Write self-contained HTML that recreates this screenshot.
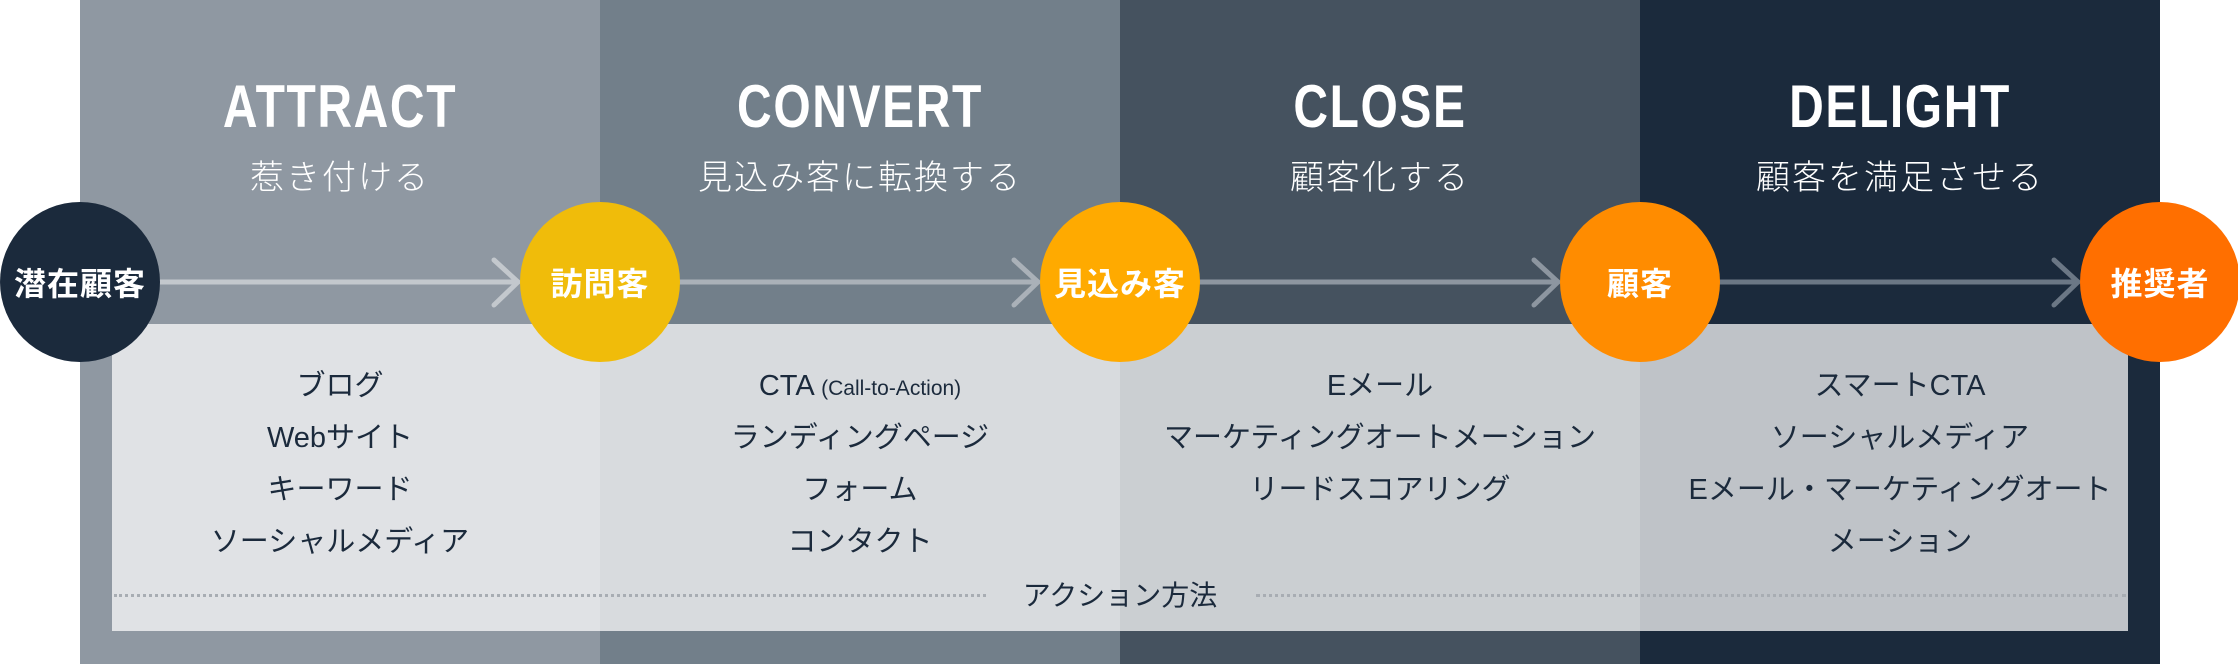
<!DOCTYPE html>
<html><head><meta charset="utf-8"><style>
*{margin:0;padding:0;box-sizing:border-box}
body{width:2238px;height:664px;position:relative;background:#fff;overflow:hidden;font-family:"Liberation Sans","Noto Sans CJK JP",sans-serif}
.col{position:absolute;top:0;height:664px;width:520px}
.light{position:absolute;left:112px;top:324px;width:2016px;height:307px;background:rgba(255,255,255,0.72)}
.t{position:absolute;width:520px;text-align:center;color:#fff}
.h{top:72px;font-size:60px;font-weight:bold;letter-spacing:2px;font-family:"Liberation Sans Narrow","Liberation Sans",sans-serif;transform:scaleX(0.8)}
.s{top:150px;font-size:34px;font-weight:300;letter-spacing:2px}
.items{position:absolute;top:360px;width:520px;text-align:center;color:#1b2a3c;font-size:29px;line-height:52px}
.items span{line-height:20px}
.c{position:absolute;top:202px;width:160px;height:160px;border-radius:50%;color:#fff;font-weight:bold;font-size:32px;display:flex;align-items:center;justify-content:center;letter-spacing:1px}
.dot{position:absolute;top:594px;height:0;border-top:3px dotted #a8adb3}
</style></head><body>
<div class="col" style="left:80px;background:#8f98a2"></div>
<div class="col" style="left:600px;background:#727f8a"></div>
<div class="col" style="left:1120px;background:#45525f"></div>
<div class="col" style="left:1640px;background:#1b2a3c"></div>
<div class="light"></div>

<div class="t h" style="left:80px">ATTRACT</div>
<div class="t s" style="left:80px">惹き付ける</div>
<div class="t h" style="left:600px">CONVERT</div>
<div class="t s" style="left:600px">見込み客に転換する</div>
<div class="t h" style="left:1120px">CLOSE</div>
<div class="t s" style="left:1120px">顧客化する</div>
<div class="t h" style="left:1640px">DELIGHT</div>
<div class="t s" style="left:1640px">顧客を満足させる</div>

<svg style="position:absolute;left:0;top:0" width="2238" height="664">
<g fill="none" stroke-width="5" stroke-linecap="round" stroke-linejoin="round">
<g stroke="#c3c8cd"><line x1="150" y1="282" x2="518" y2="282"/><polyline points="494,260 518,282 494,305"/></g>
<g stroke="#aab1b8"><line x1="670" y1="282" x2="1038" y2="282"/><polyline points="1014,260 1038,282 1014,305"/></g>
<g stroke="#8d96a0"><line x1="1190" y1="282" x2="1558" y2="282"/><polyline points="1534,260 1558,282 1534,305"/></g>
<g stroke="#6b7785"><line x1="1710" y1="282" x2="2078" y2="282"/><polyline points="2054,260 2078,282 2054,305"/></g>
</g></svg>

<div class="items" style="left:80px">ブログ<br>Webサイト<br>キーワード<br>ソーシャルメディア</div>
<div class="items" style="left:600px">CTA <span style="font-size:21px">(Call-to-Action)</span><br>ランディングページ<br>フォーム<br>コンタクト</div>
<div class="items" style="left:1120px">Eメール<br>マーケティングオートメーション<br>リードスコアリング</div>
<div class="items" style="left:1640px">スマートCTA<br>ソーシャルメディア<br>Eメール・マーケティングオート<br>メーション</div>

<div class="dot" style="left:114px;width:872px"></div>
<div class="dot" style="left:1256px;width:870px"></div>
<div style="position:absolute;left:1000px;width:240px;top:574px;text-align:center;font-size:28px;color:#1b2a3c">アクション方法</div>

<div class="c" style="left:0;background:#1b2a3c">潜在顧客</div>
<div class="c" style="left:520px;background:#f0bc0a">訪問客</div>
<div class="c" style="left:1040px;background:#ffaa00">見込み客</div>
<div class="c" style="left:1560px;background:#ff8c00">顧客</div>
<div class="c" style="left:2080px;background:#ff6f00">推奨者</div>
</body></html>
